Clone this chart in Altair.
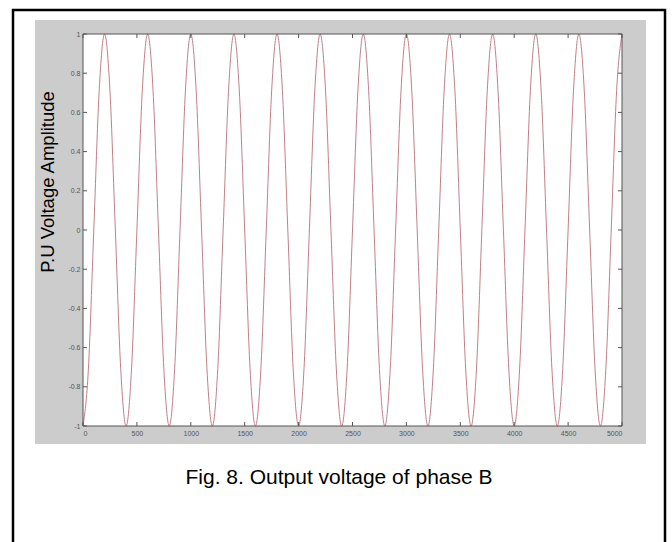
import altair as alt
import pandas as pd

# sample positions along the time axis (every 50 units)
t_vals = list(range(0, 5001, 50))
# P.U voltage at those positions
v_vals = [
    -1, -0.71, 0, 0.71, 1, 0.71, 0, -0.71,
    -1, -0.71, 0, 0.71, 1, 0.71, 0, -0.71,
    -1, -0.71, 0, 0.71, 1, 0.71, 0, -0.71,
    -1, -0.71, 0, 0.71, 1, 0.71, 0, -0.71,
    -1, -0.71, 0, 0.71, 1, 0.71, 0, -0.71,
    -1, -0.71, 0, 0.71, 1, 0.71, 0, -0.71,
    -1, -0.71, 0, 0.71, 1, 0.71, 0, -0.71,
    -1, -0.71, 0, 0.71, 1, 0.71, 0, -0.71,
    -1, -0.71, 0, 0.71, 1, 0.71, 0, -0.71,
    -1, -0.71, 0, 0.71, 1, 0.71, 0, -0.71,
    -1, -0.71, 0, 0.71, 1, 0.71, 0, -0.71,
    -1, -0.71, 0, 0.71, 1, 0.71, 0, -0.71,
    -1, -0.71, 0, 0.71, 1,
]
x_ticks = [0, 500, 1000, 1500, 2000, 2500, 3000, 3500, 4000, 4500, 5000]
y_ticks = [-1, -0.8, -0.6, -0.4, -0.2, 0, 0.2, 0.4, 0.6, 0.8, 1]

y_title = "P.U Voltage Amplitude"
caption = "Fig. 8. Output voltage of phase B"

W, H = 539, 392
FONT = "Liberation Sans"

df = pd.DataFrame({"t": t_vals, "v": v_vals})
xt = pd.DataFrame({"t": x_ticks})
yt = pd.DataFrame({"v": y_ticks})
one = pd.DataFrame({"a": [0]})

xscale = alt.Scale(domain=[0, 5000], nice=False, zero=False)
yscale = alt.Scale(domain=[-1, 1], nice=False, zero=False)
xax = alt.Axis(values=x_ticks, ticks=False, domain=False, grid=False, title=None,
               labelFont=FONT, labelFontSize=7, labelColor="#555", labelPadding=3,
               zindex=2, format="d")
yax = alt.Axis(values=y_ticks, ticks=False, domain=False, grid=False, title=None,
               labelFont=FONT, labelFontSize=7, labelColor="#555", labelPadding=3,
               zindex=2, labelExpr="toString(datum.value)")

def box(x1, x2, y1, y2, **kw):
    return alt.Chart(one).mark_rect(**kw).encode(
        x=alt.value(x1), x2=alt.value(x2), y=alt.value(y1), y2=alt.value(y2))

border = box(-70, 582, -24, 560, fillOpacity=0, stroke="black", strokeWidth=2.5)
gray = box(-48, 563, -14, 410, color="#cccccc")
white = box(0, W, 0, H, color="white")

line = alt.Chart(df).mark_line(color="#c07f8b", strokeWidth=1, interpolate="monotone").encode(
    x=alt.X("t:Q", scale=xscale, axis=xax),
    y=alt.Y("v:Q", scale=yscale, axis=yax),
)

tick_col = "#555555"
xb = alt.Chart(xt).mark_rule(color=tick_col, strokeWidth=1).encode(
    x=alt.X("t:Q", scale=xscale, axis=xax), y=alt.value(H), y2=alt.value(H - 4))
xtop = alt.Chart(xt).mark_rule(color=tick_col, strokeWidth=1).encode(
    x=alt.X("t:Q", scale=xscale, axis=xax), y=alt.value(0), y2=alt.value(4))
yl = alt.Chart(yt).mark_rule(color=tick_col, strokeWidth=1).encode(
    y=alt.Y("v:Q", scale=yscale, axis=yax), x=alt.value(0), x2=alt.value(4))
yr = alt.Chart(yt).mark_rule(color=tick_col, strokeWidth=1).encode(
    y=alt.Y("v:Q", scale=yscale, axis=yax), x=alt.value(W - 4), x2=alt.value(W))

frame = box(0, W, 0, H, fillOpacity=0, stroke="#555555", strokeWidth=1)

ytitle = alt.Chart(one).mark_text(
    text=y_title, font=FONT, fontSize=18.5, angle=270, align="center",
    baseline="middle", color="black").encode(x=alt.value(-35), y=alt.value(148))
cap = alt.Chart(one).mark_text(
    text=caption, font=FONT, fontSize=21, align="center",
    baseline="alphabetic", color="black").encode(x=alt.value(256), y=alt.value(450))

chart = alt.layer(border, gray, white, line, xb, xtop, yl, yr, frame, ytitle, cap).properties(
    width=W, height=H,
    padding={"left": 83, "top": 34, "right": 672 - 83 - W, "bottom": 542 - 34 - H},
    autosize=alt.AutoSizeParams(type="none"),
    background="white",
).configure_view(stroke=None)

chart.save("out.html", embed_options={"renderer": "svg", "actions": False})
